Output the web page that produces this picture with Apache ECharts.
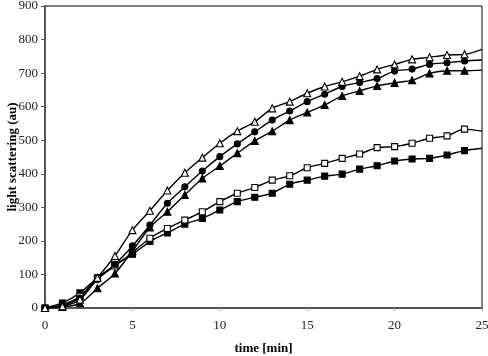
<!DOCTYPE html>
<html>
<head>
<meta charset="utf-8">
<script src="https://cdn.jsdelivr.net/npm/echarts@6/dist/echarts.min.js"></script>
<style>
  html, body { margin: 0; padding: 0; background: #fff; }
  #chart { width: 488px; height: 356px; }
</style>
</head>
<body>
<div id="chart"></div>
<script>
// time in minutes, last value (25) is the end of the curve, drawn without marker
const times = [0, 1, 2, 3, 4, 5, 6, 7, 8, 9, 10, 11, 12, 13, 14, 15, 16, 17, 18, 19, 20, 21, 22, 23, 24, 25]

const openTriangle = [0, 5, 25, 90, 155, 232, 290, 350, 403, 448, 491, 527, 555, 595, 615, 640, 660, 674, 691, 711, 726, 741, 747, 754, 756, 771]
const filledCircle = [0, 8, 30, 85, 130, 185, 247, 312, 361, 408, 451, 489, 525, 560, 587, 615, 637, 660, 672, 684, 706, 712, 726, 731, 736, 739]
const filledTriangle = [0, 3, 14, 59, 103, 170, 240, 287, 337, 386, 423, 461, 498, 527, 560, 583, 605, 632, 647, 662, 671, 679, 699, 707, 707, 709]
const openSquare = [0, 10, 35, 88, 125, 165, 208, 237, 262, 287, 317, 342, 359, 381, 394, 418, 431, 446, 459, 478, 481, 491, 506, 513, 533, 527]
const filledSquare = [0, 15, 45, 90, 128, 160, 198, 224, 250, 267, 292, 317, 330, 342, 369, 381, 393, 399, 414, 424, 438, 444, 446, 456, 469, 476]

const toPoints = (vals) =>
  vals.map((v, i) => {
    if (times[i] === 25) return { value: [times[i], v], symbol: 'none' }
    return [times[i], v]
  })

const makeSeries = (name, vals, symbol, filled, size) => ({
  name,
  type: 'line',
  smooth: 0.3,
  symbol,
  symbolSize: size,
  showAllSymbol: true,
  clip: true,
  lineStyle: { color: '#000', width: 1.4 },
  itemStyle: {
    color: filled ? '#000' : '#fff',
    borderColor: '#000',
    borderWidth: 1.1,
  },
  data: toPoints(vals),
})

const chart = echarts.init(document.getElementById('chart'))
chart.setOption({
  animation: false,
  textStyle: { fontFamily: 'Liberation Serif' },
  grid: {
    left: 45, right: 6, top: 6, bottom: 48,
    outerBoundsMode: 'none',
    containLabel: false,
    show: true, borderColor: '#000', borderWidth: 1,
  },
  xAxis: {
    type: 'value',
    min: 0, max: 25, interval: 5,
    name: 'time [min]',
    nameLocation: 'middle',
    nameGap: 34,
    nameMoveOverlap: false,
    nameTextStyle: { fontFamily: 'Liberation Serif', fontWeight: 'bold', fontSize: 13, color: '#000' },
    axisLine: { lineStyle: { color: '#555', width: 2 } },
    axisTick: { show: true, length: 3, lineStyle: { color: '#999' } },
    axisLabel: { color: '#222', fontSize: 13, margin: 11, fontFamily: 'Liberation Serif' },
    splitLine: { show: false },
  },
  yAxis: {
    type: 'value',
    min: 0, max: 900, interval: 100,
    name: 'light scattering (au)',
    nameLocation: 'middle',
    nameGap: 26,
    nameMoveOverlap: false,
    nameTextStyle: { fontFamily: 'Liberation Serif', fontWeight: 'bold', fontSize: 13, color: '#000' },
    axisLine: { show: true, lineStyle: { color: '#555', width: 2 } },
    axisTick: { show: true, length: 4, lineStyle: { color: '#555' } },
    axisLabel: { color: '#222', fontSize: 13, margin: 7, fontFamily: 'Liberation Serif' },
    splitLine: { show: false },
  },
  series: [
    makeSeries('filled square', filledSquare, 'rect', true, 6),
    makeSeries('open square', openSquare, 'rect', false, 6),
    makeSeries('filled triangle', filledTriangle, 'triangle', true, 7),
    makeSeries('filled circle', filledCircle, 'circle', true, 6),
    makeSeries('open triangle', openTriangle, 'triangle', false, 7),
  ],
})
</script>
</body>
</html>
